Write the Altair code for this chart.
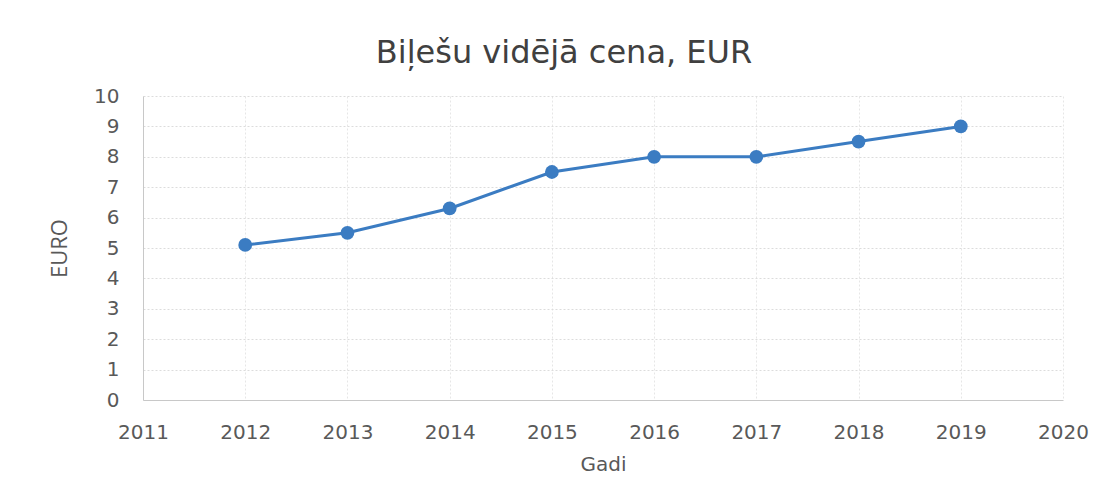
import altair as alt
import pandas as pd

years = [2012, 2013, 2014, 2015, 2016, 2017, 2018, 2019]
prices = [5.1, 5.5, 6.3, 7.5, 8.0, 8.0, 8.5, 9.0]
x_ticks = [2011, 2012, 2013, 2014, 2015, 2016, 2017, 2018, 2019, 2020]
y_ticks = [0, 1, 2, 3, 4, 5, 6, 7, 8, 9, 10]

df = pd.DataFrame({"Gadi": years, "EURO": prices})

FONT = "DejaVu Sans"
GRAY = "#595959"
BLUE = "#3b7cc2"

x = alt.X("Gadi:Q",
          scale=alt.Scale(domain=[2011, 2020], nice=False, zero=False),
          axis=alt.Axis(values=x_ticks, format="d", title="Gadi",
                        labelFontSize=20, labelColor=GRAY, labelFont=FONT,
                        titleFont=FONT, titleFontSize=20, titleColor=GRAY,
                        titleFontWeight="normal", titlePadding=12,
                        labelPadding=22, tickSize=0, domainColor="#c8c8c8",
                        grid=True, gridColor="#e6e6e6", gridDash=[2, 2],
                        labelFlush=False))
y = alt.Y("EURO:Q",
          scale=alt.Scale(domain=[0, 10], nice=False),
          axis=alt.Axis(values=y_ticks, title="EURO",
                        labelFontSize=20, labelColor=GRAY, labelFont=FONT,
                        titleFont="Open Sans", titleFontSize=22, titleColor=GRAY,
                        titleFontWeight="normal", titlePadding=22,
                        labelPadding=24, tickSize=0, domainColor="#c8c8c8",
                        grid=True, gridColor="#dcdcdc", gridDash=[2, 2]))

line = alt.Chart(df).mark_line(color=BLUE, strokeWidth=3).encode(x=x, y=y)
pts = alt.Chart(df).mark_point(color=BLUE, filled=True, size=190, opacity=1).encode(x=x, y=y)

chart = (line + pts).properties(
    width=920, height=304,
    autosize=alt.AutoSizeParams(type="none"),
    padding={"left": 135, "top": 88, "right": 40, "bottom": 90},
    title=alt.TitleParams("Biļešu vidējā cena, EUR", font=FONT, fontSize=32,
                          fontWeight="normal", color="#404040", anchor="middle",
                          offset=16, dx=-39),
).configure_view(stroke=None)

chart.save("out.html", embed_options={"renderer": "svg", "actions": False})
